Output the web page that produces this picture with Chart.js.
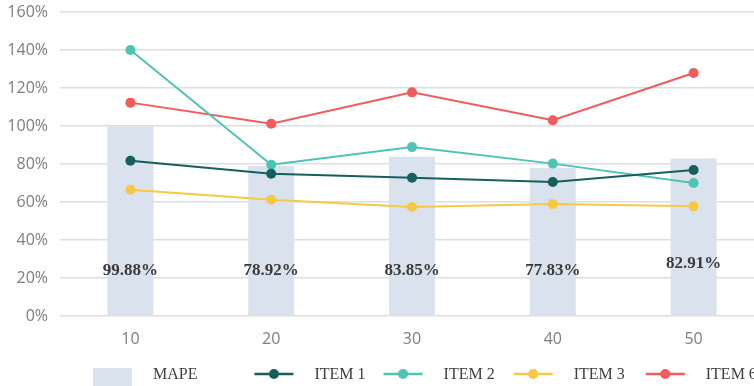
<!DOCTYPE html>
<html>
<head>
<meta charset="utf-8">
<script src="https://cdn.jsdelivr.net/npm/chart.js@4.4.1/dist/chart.umd.min.js"></script>
<style>
  html, body { margin: 0; padding: 0; background: #ffffff; overflow: hidden; }
  #wrap { width: 754px; height: 386px; overflow: hidden; }
  canvas { display: block; }
</style>
</head>
<body>
<div id="wrap"><canvas id="c" width="769" height="386"></canvas></div>
<script>
// Sample sizes along the x axis
const categories = ['10', '20', '30', '40', '50'];

// Mean absolute percentage error per sample size (bars)
const mape = [99.88, 78.92, 83.85, 77.83, 82.91];

// Individual item errors (lines), in percent
const item1 = [81.7, 74.9, 72.8, 70.5, 76.8];
const item2 = [140.0, 79.6, 88.9, 80.2, 70.0];
const item3 = [66.5, 61.2, 57.4, 58.9, 57.7];
const item6 = [112.3, 101.2, 117.7, 103.0, 127.9];

// Y axis ticks
const yTicks = [0, 20, 40, 60, 80, 100, 120, 140, 160];

const COLORS = {
  bar: '#dae2ed',
  item1: '#15605c',
  item2: '#4fc3b6',
  item3: '#f7c846',
  item6: '#f25b5b',
  grid: '#dedede',
  tick: '#7d7d7d',
  text: '#3a3a3a'
};

function lineSet(label, data, color) {
  return {
    type: 'line',
    label: label,
    data: data,
    borderColor: color,
    backgroundColor: color,
    pointBackgroundColor: color,
    pointBorderColor: color,
    borderWidth: 2,
    pointRadius: 5,
    pointHoverRadius: 5,
    pointBorderWidth: 0,
    tension: 0,
    fill: false,
    order: 1
  };
}

// Percent labels written inside each bar, bold serif
const barValueLabels = {
  id: 'barValueLabels',
  afterDatasetsDraw(chart, args, opts) {
    const meta = chart.getDatasetMeta(0);
    const y = chart.scales.y;
    const ctx = chart.ctx;
    ctx.save();
    ctx.font = 'bold 17px "Liberation Serif", "Times New Roman", serif';
    ctx.fillStyle = opts.color;
    ctx.textAlign = 'center';
    ctx.textBaseline = 'middle';
    meta.data.forEach((bar, i) => {
      const v = chart.data.datasets[0].data[i];
      const lift = (opts.lift && opts.lift[i]) || 0;
      ctx.fillText(v.toFixed(2) + '%', bar.x, y.getPixelForValue(opts.anchor) - lift);
    });
    ctx.restore();
  }
};

// Bottom legend: swatch + serif label for each series
const bottomLegend = {
  id: 'bottomLegend',
  afterDraw(chart, args, opts) {
    const ctx = chart.ctx;
    ctx.save();
    ctx.font = '16px "Liberation Serif", "Times New Roman", serif';
    ctx.textBaseline = 'middle';
    ctx.textAlign = 'left';
    let x = opts.start;
    const cy = opts.y;
    chart.data.datasets.forEach((ds, i) => {
      if (ds.type === 'bar') {
        ctx.fillStyle = ds.backgroundColor;
        ctx.fillRect(x, cy - 6, opts.swatch, 24);
      } else {
        ctx.strokeStyle = ds.borderColor;
        ctx.lineWidth = 2.5;
        ctx.beginPath();
        ctx.moveTo(x, cy);
        ctx.lineTo(x + opts.swatch, cy);
        ctx.stroke();
        ctx.fillStyle = ds.borderColor;
        ctx.beginPath();
        ctx.arc(x + opts.swatch / 2, cy, 5, 0, Math.PI * 2);
        ctx.fill();
      }
      x += opts.swatch + opts.textGap;
      ctx.fillStyle = opts.color;
      ctx.fillText(ds.label, x, cy + 1);
      x += ctx.measureText(ds.label).width + (opts.itemGap[i] || 0);
    });
    ctx.restore();
  }
};

Chart.defaults.font.family = '"Open Sans", sans-serif';

new Chart(document.getElementById('c'), {
  data: {
    labels: categories,
    datasets: [
      {
        type: 'bar',
        label: 'MAPE',
        data: mape,
        backgroundColor: COLORS.bar,
        borderWidth: 0,
        barPercentage: 0.327,
        categoryPercentage: 1,
        order: 10
      },
      lineSet('ITEM 1', item1, COLORS.item1),
      lineSet('ITEM 2', item2, COLORS.item2),
      lineSet('ITEM 3', item3, COLORS.item3),
      lineSet('ITEM 6', item6, COLORS.item6)
    ]
  },
  options: {
    responsive: false,
    devicePixelRatio: 1,
    animation: false,
    layout: { padding: { top: 12, right: 0, bottom: 40, left: 0 } },
    plugins: {
      legend: { display: false },
      tooltip: { enabled: false },
      barValueLabels: { anchor: 23.7, lift: { 4: 7 }, color: COLORS.text },
      bottomLegend: {
        start: 93, y: 374, swatch: 39, textGap: 21,
        itemGap: [57, 18, 19, 21], color: '#404040'
      }
    },
    scales: {
      x: {
        offset: true,
        grid: { display: false, drawTicks: false },
        border: { display: false },
        ticks: { color: COLORS.tick, font: { size: 16 }, padding: 14 },
        afterFit(scale) {
          scale.height = 30;
          scale.paddingLeft = 0;
          scale.paddingRight = 0;
        }
      },
      y: {
        min: 0,
        max: 160,
        afterBuildTicks(scale) { scale.ticks = yTicks.map(v => ({ value: v })); },
        grid: { color: COLORS.grid, lineWidth: 1.5, drawTicks: false },
        border: { display: false },
        ticks: {
          color: COLORS.tick,
          font: { size: 16 },
          padding: 12,
          callback: v => v + '%'
        },
        afterFit(scale) {
          scale.width = 60;
          scale.paddingTop = 0;
          scale.paddingBottom = 0;
        }
      }
    }
  },
  plugins: [barValueLabels, bottomLegend]
});
</script>
</body>
</html>
